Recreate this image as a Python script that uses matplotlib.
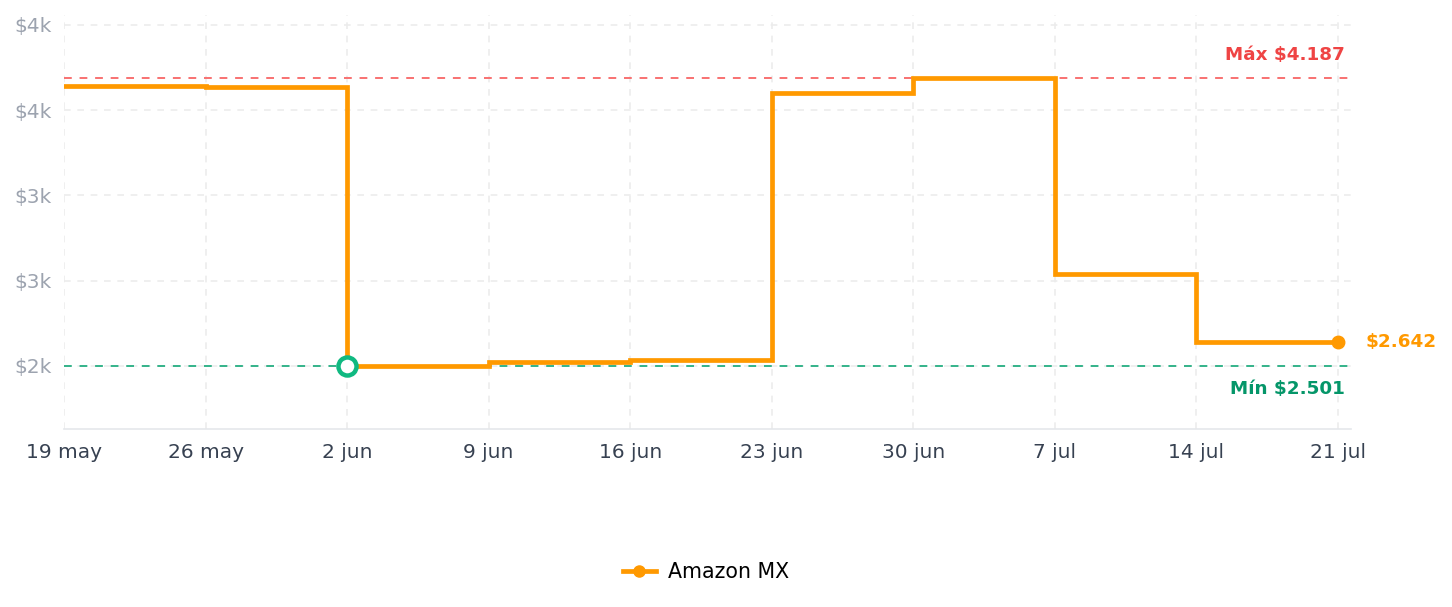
import matplotlib
matplotlib.use("Agg")
import matplotlib.pyplot as plt
import matplotlib.dates as mdates
from matplotlib.lines import Line2D
import numpy as np
import datetime as dt

dates = ["2024-05-19", "2024-05-26", "2024-06-02", "2024-06-09", "2024-06-16",
         "2024-06-23", "2024-06-30", "2024-07-07", "2024-07-14", "2024-07-21"]
prices = [4142, 4133, 2501, 2521, 2535, 4098, 4187, 3040, 2642, 2642]
xtick_labels = ["19 may", "26 may", "2 jun", "9 jun", "16 jun", "23 jun",
                "30 jun", "7 jul", "14 jul", "21 jul"]
ytick_values = [2500, 3000, 3500, 4000, 4500]
ytick_labels = ["$2k", "$3k", "$3k", "$4k", "$4k"]
max_price = 4187
min_price = 2501
last_price = 2642
series_name = "Amazon MX"

x = [dt.datetime.strptime(d, "%Y-%m-%d") for d in dates]
xn = mdates.date2num(x)

fig = plt.figure(figsize=(14.52, 6.07), dpi=100)
ax = fig.add_axes([64/1452, 1-429/607, (1351-64)/1452, (429-15)/607])

orange = "#ff9900"
ax.step(xn, prices, where="post", color=orange, lw=3.4, solid_joinstyle="miter", zorder=4)
ax.plot([xn[-1]], [prices[-1]], "o", color=orange, ms=9, zorder=5)

imin = int(np.argmin(prices))
ax.plot([xn[imin]], [prices[imin]], "o", mfc="white", mec="#10b981", mew=3.2, ms=13, zorder=6)

ax.axhline(max_price, color="#f87171", lw=1.4, ls=(0, (4, 4)), zorder=3)
ax.axhline(min_price, color="#34b38a", lw=1.4, ls=(0, (4, 4)), zorder=3)

ax.set_xlim(xn[0], xn[-1] + 0.64)
ax.set_ylim(2130, 4558)

ax.set_xticks(xn)
ax.set_xticklabels(xtick_labels)
ax.set_yticks(ytick_values)
ax.set_yticklabels(ytick_labels)

ax.grid(True, color="#ececec", ls=(0, (4, 4)), lw=1.2, zorder=0)
for s in ["left", "right", "top"]:
    ax.spines[s].set_visible(False)
ax.spines["bottom"].set_color("#e5e7eb")
ax.spines["bottom"].set_linewidth(1.2)
ax.tick_params(axis="both", length=0)
ax.tick_params(axis="x", colors="#374151", labelsize=14.5, pad=10)
ax.tick_params(axis="y", colors="#9ca3af", labelsize=14.5, pad=9)

ax.annotate("Máx $4.187", xy=(0.9953, max_price), xycoords=("axes fraction", "data"),
            xytext=(0, 16.5), textcoords="offset points", ha="right", va="center",
            color="#ef4444", fontsize=13.2, fontweight="bold")
ax.annotate("Mín $2.501", xy=(0.9953, min_price), xycoords=("axes fraction", "data"),
            xytext=(0, -16.5), textcoords="offset points", ha="right", va="center",
            color="#059669", fontsize=13.2, fontweight="bold")
ax.annotate("$2.642", xy=(xn[-1], last_price), xytext=(20, 0), textcoords="offset points",
            ha="left", va="center", color=orange, fontsize=13.2, fontweight="bold",
            annotation_clip=False)

handle = Line2D([0], [0], color=orange, lw=3.4, marker="o", ms=8)
fig.legend([handle], [series_name], loc="center", bbox_to_anchor=(706/1452, 1-572/607),
           frameon=False, fontsize=14.8, handlelength=1.6, handletextpad=0.6)

fig.savefig("out.png", dpi=100)
